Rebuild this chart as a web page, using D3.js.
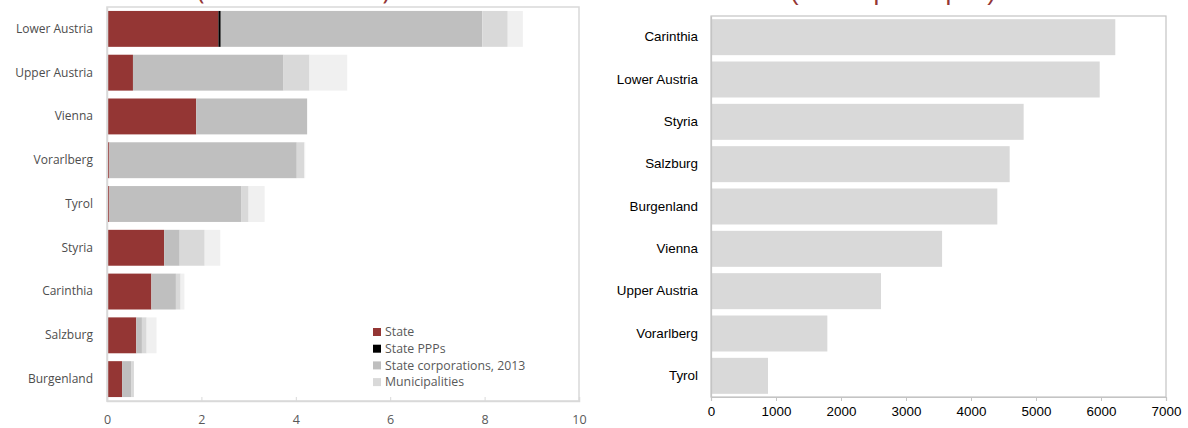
<!DOCTYPE html>
<html>
<head>
<meta charset="utf-8">
<script src="https://cdn.jsdelivr.net/npm/d3@7"></script>
<style>
  html, body { margin: 0; padding: 0; background: #fff; }
  svg { display: block; }
</style>
</head>
<body>
<svg id="chart" width="1188" height="428"></svg>
<script>
// ---- Left chart data (per cent of GDP) ----
const leftCategories = ["Lower Austria","Upper Austria","Vienna","Vorarlberg","Tyrol","Styria","Carinthia","Salzburg","Burgenland"];
const stateDebt        = [2.36, 0.55, 1.89, 0.05, 0.05, 1.21, 0.94, 0.62, 0.32];
const statePPPs        = [0.05, 0.00, 0.00, 0.00, 0.00, 0.00, 0.00, 0.00, 0.00];
const stateCorps2013   = [5.54, 3.19, 2.35, 3.97, 2.80, 0.33, 0.52, 0.12, 0.19];
const municipalities   = [0.54, 0.55, 0.00, 0.16, 0.15, 0.53, 0.10, 0.10, 0.06];
const otherMunicipal   = [0.32, 0.80, 0.00, 0.02, 0.34, 0.33, 0.08, 0.21, 0.00];
const leftTicks = [0, 2, 4, 6, 8, 10];
const legendLabels = ["State", "State PPPs", "State corporations, 2013", "Municipalities"];

// ---- Right chart data (euros per capita) ----
const rightCategories = ["Carinthia","Lower Austria","Styria","Salzburg","Burgenland","Vienna","Upper Austria","Vorarlberg","Tyrol"];
const perCapita = [6220, 5980, 4810, 4595, 4405, 3555, 2615, 1790, 877];
const rightTicks = [0, 1000, 2000, 3000, 4000, 5000, 6000, 7000];

const titles = ["(Percent of GDP)", "(Euros per capita)"];

const svg = d3.select("#chart");
const seriesKeys = ["state","ppp","corp","muni","other"];
const seriesColors = {state:"#943634", ppp:"#000000", corp:"#bfbfbf", muni:"#d9d9d9", other:"#f0f0f0"};

// ---------- LEFT CHART ----------
const L = {x0:107, x1:579, y0:7, y1:401};
const xL = d3.scaleLinear().domain([0,10]).range([L.x0, L.x1]);
const yL = d3.scaleBand().domain(leftCategories).range([L.y0, L.y1]).paddingInner(0.18).paddingOuter(0.09);

const leftRows = leftCategories.map((c,i)=>({cat:c, state:stateDebt[i], ppp:statePPPs[i], corp:stateCorps2013[i], muni:municipalities[i], other:otherMunicipal[i]}));
const stacked = d3.stack().keys(seriesKeys)(leftRows);

// frame
svg.append("rect").attr("x", L.x0).attr("y", L.y0).attr("width", L.x1-L.x0).attr("height", L.y1-L.y0)
  .attr("fill","none").attr("stroke","#d9d9d9").attr("stroke-width",1.5);

const gL = svg.append("g");
stacked.forEach(s => {
  gL.selectAll(null).data(s).join("rect")
    .attr("x", d => xL(d[0]))
    .attr("y", d => yL(d.data.cat))
    .attr("width", d => Math.max(0, xL(d[1]) - xL(d[0])))
    .attr("height", yL.bandwidth())
    .attr("fill", seriesColors[s.key]);
});

// bottom axis
const axL = svg.append("g").attr("transform", `translate(0,${L.y1})`)
  .call(d3.axisBottom(xL).tickValues(leftTicks).tickSize(-4).tickPadding(14).tickFormat(d3.format("d")));
axL.select(".domain").attr("stroke","#d9d9d9").attr("stroke-width",1.5);
axL.selectAll(".tick line").attr("stroke","#d9d9d9");
axL.selectAll("text").attr("font-family","'Open Sans', sans-serif").attr("font-size","12.5px").attr("fill","#595959");

// left category axis
const ayL = svg.append("g").attr("transform", `translate(${L.x0},0)`)
  .call(d3.axisLeft(yL).tickSize(0).tickPadding(14));
ayL.select(".domain").attr("stroke","#d9d9d9").attr("stroke-width",1.5);
ayL.selectAll("text").attr("font-family","'Open Sans', sans-serif").attr("font-size","12px").attr("fill","#4d4d4d");

// legend
const leg = svg.append("g");
legendLabels.forEach((lab,i) => {
  const yy = 332 + i*16.7;
  leg.append("rect").attr("x",373).attr("y",yy-4).attr("width",8).attr("height",8).attr("fill",seriesColors[seriesKeys[i]]);
  leg.append("text").attr("x",385).attr("y",yy).attr("dy","0.35em")
    .attr("font-family","'Open Sans', sans-serif").attr("font-size","12.3px").attr("fill","#595959").text(lab);
});

// title (cut off at the top)
svg.append("text").attr("x",197).attr("y",-1).attr("textLength",193).attr("lengthAdjust","spacingAndGlyphs")
  .attr("font-family","'Open Sans', sans-serif").attr("font-size","25px").attr("fill","#943634").text(titles[0]);

// ---------- RIGHT CHART ----------
const R = {x0:711, x1:1166, y0:16, y1:397};
const xR = d3.scaleLinear().domain([0,7000]).range([R.x0, R.x1]);
const yR = d3.scaleBand().domain(rightCategories).range([R.y0, R.y1]).paddingInner(0.15).paddingOuter(0.075);

svg.append("rect").attr("x", R.x0).attr("y", R.y0).attr("width", R.x1-R.x0).attr("height", R.y1-R.y0)
  .attr("fill","none").attr("stroke","#c4c4c4").attr("stroke-width",1.2);

svg.append("g").selectAll("rect").data(rightCategories).join("rect")
  .attr("x", xR(0)+1)
  .attr("y", d => yR(d))
  .attr("width", (d,i) => xR(perCapita[i]) - xR(0) - 1)
  .attr("height", yR.bandwidth())
  .attr("fill", "#d9d9d9");

const axR = svg.append("g").attr("transform", `translate(0,${R.y1})`)
  .call(d3.axisBottom(xR).tickValues(rightTicks).tickSize(4).tickPadding(5).tickFormat(d3.format("d")));
axR.select(".domain").attr("stroke","#c4c4c4").attr("stroke-width",1.2);
axR.selectAll(".tick line").attr("stroke","#c4c4c4");
axR.selectAll("text").attr("font-family","'Liberation Sans', Arial, sans-serif").attr("font-size","13.4px").attr("fill","#000");

const ayR = svg.append("g").attr("transform", `translate(${R.x0},0)`)
  .call(d3.axisLeft(yR).tickSize(0).tickPadding(13));
ayR.select(".domain").attr("stroke","#c4c4c4").attr("stroke-width",1.2);
ayR.selectAll("text").attr("font-family","'Liberation Sans', Arial, sans-serif").attr("font-size","13.4px").attr("fill","#000");

svg.append("text").attr("x",790).attr("y",0).attr("textLength",206).attr("lengthAdjust","spacingAndGlyphs")
  .attr("font-family","'Liberation Sans', Arial, sans-serif").attr("font-size","26px").attr("fill","#943634").text(titles[1]);
</script>
</body>
</html>
